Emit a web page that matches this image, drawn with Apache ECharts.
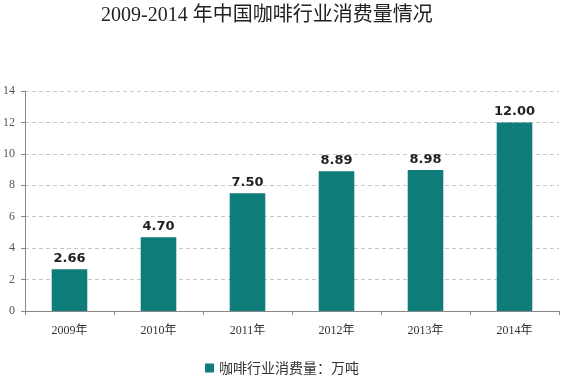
<!DOCTYPE html>
<html><head><meta charset="utf-8">
<script src="https://cdn.jsdelivr.net/npm/echarts@6/dist/echarts.min.js"></script>
<style>html,body{margin:0;padding:0;background:#fff}#c{width:564px;height:383px}</style>
</head><body><div id="c"></div>
<script>
const title = '2009-2014 年中国咖啡行业消费量情况';
const categories = ['2009年','2010年','2011年','2012年','2013年','2014年'];
const values = [2.66, 4.70, 7.50, 8.89, 8.98, 12.00];
const seriesName = '咖啡行业消费量：万吨';
const yTicks = {min: 0, max: 14, interval: 2};

const chart = echarts.init(document.getElementById('c'));
chart.setOption({
  animation: false,
  title: {text: title, left: 96, top: 1,
    textStyle: {fontFamily: '"Liberation Serif","Noto Sans CJK SC",serif', fontSize: 20, fontWeight: 'normal', color: '#222'}},
  grid: {left: 25, right: 5, top: 91, bottom: 72},
  legend: {bottom: 3, left: 'center', itemWidth: 9, itemHeight: 9, itemGap: 5,
    textStyle: {fontSize: 14, color: '#333', fontFamily: '"Noto Sans CJK SC",sans-serif'},
    data: [{name: seriesName, icon: 'rect'}]},
  xAxis: {type: 'category', data: categories,
    axisLine: {lineStyle: {color: '#888'}},
    axisTick: {show: true, alignWithLabel: false, length: 4, lineStyle: {color: '#888'}},
    axisLabel: {fontSize: 12, color: '#333', margin: 14, fontFamily: '"Liberation Serif","Noto Sans CJK SC",serif'}},
  yAxis: {type: 'value', min: yTicks.min, max: yTicks.max, interval: yTicks.interval,
    axisLine: {show: true, lineStyle: {color: '#888'}},
    axisTick: {show: true, length: 4, lineStyle: {color: '#888'}},
    axisLabel: {fontSize: 12, color: '#555', margin: 10, fontFamily: '"Liberation Serif",serif'},
    splitLine: {lineStyle: {color: '#c8c8c8', type: [4, 3]}}},
  series: [{name: seriesName, type: 'bar', data: values, barWidth: '40%',
    itemStyle: {color: '#0e7c78'},
    label: {show: true, position: 'top', distance: 4, fontSize: 13, fontWeight: 'bold', color: '#222',
      fontFamily: '"DejaVu Sans",sans-serif',
      formatter: p => p.value.toFixed(2)}}]
});
</script></body></html>
